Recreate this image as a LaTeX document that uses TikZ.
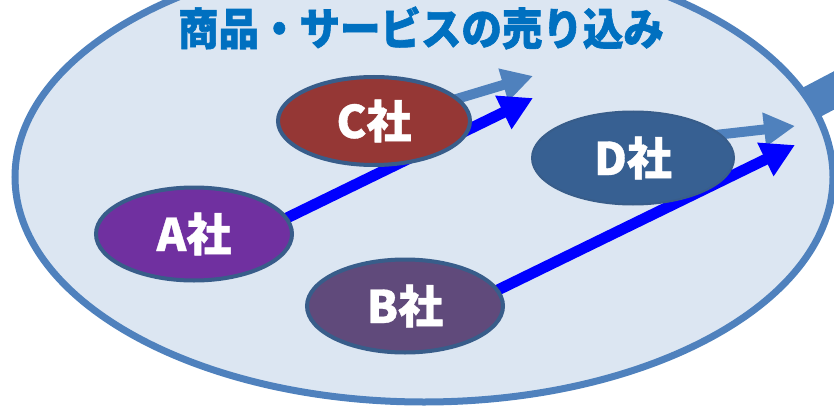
\documentclass[tikz,border=0pt]{standalone}
\usepackage{fontspec}
\newfontfamily\jp{Noto Sans CJK JP}[BoldFeatures={FakeBold=1.5}]
\newfontfamily\jplab{Noto Sans CJK JP}[BoldFeatures={FakeBold=0.8}]
\usetikzlibrary{shapes.geometric,arrows.meta,calc}
\definecolor{bigfill}{HTML}{DCE6F2}
\definecolor{lightblue}{HTML}{4F81BD}
\definecolor{firmedge}{HTML}{385D8A}
\definecolor{arrowblue}{HTML}{0000FF}
\definecolor{titleblue}{HTML}{0070C0}
\definecolor{fillA}{HTML}{7030A0}
\definecolor{fillB}{HTML}{604A7B}
\definecolor{fillC}{HTML}{953735}
\definecolor{fillD}{HTML}{376092}
\pgfdeclarelayer{back}
\pgfdeclarelayer{mid}
\pgfsetlayers{back,mid,main}
\begin{document}
\begin{tikzpicture}[x=1pt,y=-1pt,
  firm/.style={ellipse, draw=firmedge, line width=4pt, inner sep=0pt,
    minimum width=192pt, minimum height=88pt, text=white,
    font=\jplab\bfseries\fontsize{45}{50}\selectfont},
  bluearrow/.style={draw=arrowblue, fill=arrowblue, line width=11pt,
    -{Triangle[length=33pt,width=35pt]}},
  lightarrow/.style={draw=lightblue, fill=lightblue, line width=10pt,
    -{Triangle[length=31pt,width=32pt]}}]
\useasboundingbox (0,0) rectangle (834,409);
% big ellipse
\begin{pgfonlayer}{mid}
\node[ellipse, draw=lightblue, fill=bigfill, line width=7pt, inner sep=0pt,
  minimum width=818pt, minimum height=450pt] (big) at (424,177) {};
\end{pgfonlayer}
% title
\node[font=\jp\bfseries\fontsize{44}{48}\selectfont, text=titleblue, inner sep=0pt]
  (title) at (421,28) {\scalebox{0.92}[1]{商品・サービスの売り込み}};
% firms
\node[firm, fill=fillC] (C) at (374,121) {C社};
\node[firm, fill=fillA, minimum width=196pt, minimum height=93pt] (A) at (194,234) {A社};
\node[firm, fill=fillD, line width=2pt, minimum width=202pt, minimum height=93pt] (D) at (633,158) {D社};
\node[firm, fill=fillB, minimum width=196pt, minimum height=93pt] (B) at (405,306) {B社};
% arrow tips
\coordinate (tA) at (533,98);
\coordinate (tB) at (795,145);
\coordinate (tC) at (533,76);
\coordinate (tD) at (795,126);
\coordinate (out) at (890,61);
\begin{pgfonlayer}{mid}
\draw[lightarrow] ($(C.15)!-20pt!(tC)$) -- (tC);
\draw[lightarrow] ($(D.15)!-20pt!(tD)$) -- (tD);
\draw[bluearrow] ($(A.10)!-20pt!(tA)$) -- (tA);
\draw[bluearrow] ($(B.10)!-20pt!(tB)$) -- (tB);
\end{pgfonlayer}
\begin{pgfonlayer}{back}
\draw[draw=lightblue, line width=34pt] ($(big.11)!-40pt!(out)$) -- (out);
\end{pgfonlayer}
\end{tikzpicture}
\end{document}
